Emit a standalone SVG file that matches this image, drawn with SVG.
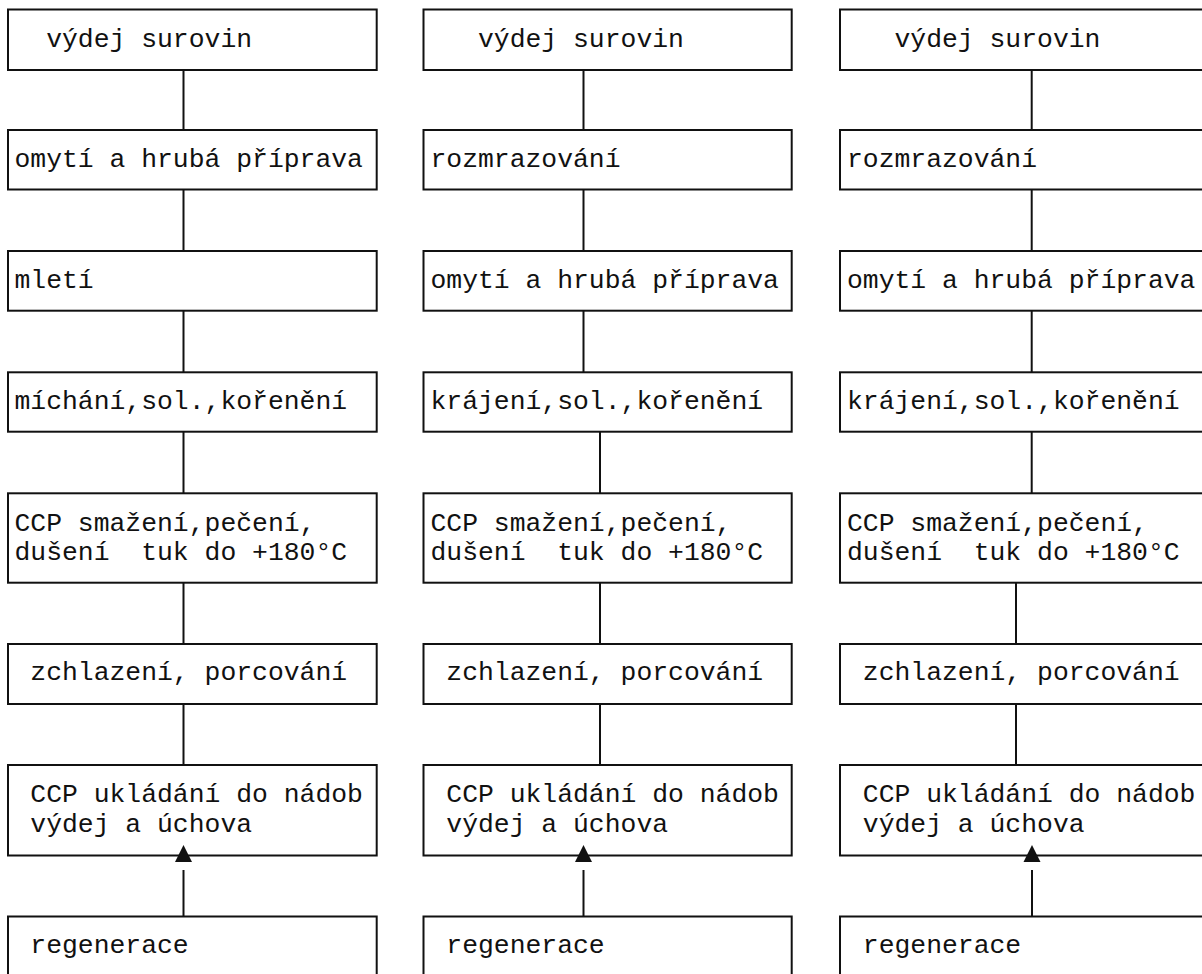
<svg xmlns="http://www.w3.org/2000/svg" width="1202" height="974" viewBox="0 0 1202 974">
<style>
.box{fill:#fff;stroke:#111;stroke-width:2}
.t{font-family:"Liberation Mono","Courier New",monospace;font-size:26.4px;fill:#111;white-space:pre}
.c{stroke:#111;stroke-width:2;fill:none}
.a{stroke:#111;stroke-width:2;fill:none;marker-end:url(#tri)}
</style>
<defs>
<marker id="tri" markerUnits="userSpaceOnUse" viewBox="0 0 17 17" markerWidth="17" markerHeight="17" refX="-8" refY="8.5" orient="auto" overflow="visible">
<path d="M0,0 L17,8.5 L0,17 z" fill="#111"/>
</marker>
</defs>
<rect width="1202" height="974" fill="#fff"/>
<g id="c1-r1"><rect class="box" x="8" y="9.5" width="368.7" height="60.5"/><text class="t" xml:space="preserve" x="14.5" y="46.7">  výdej surovin</text></g>
<g id="c1-r2"><rect class="box" x="8" y="130" width="368.7" height="59.5"/><text class="t" xml:space="preserve" x="14.5" y="166.7">omytí a hrubá příprava</text></g>
<g id="c1-r3"><rect class="box" x="8" y="251" width="368.7" height="59.7"/><text class="t" xml:space="preserve" x="14.5" y="288.3">mletí</text></g>
<g id="c1-r4"><rect class="box" x="8" y="372.3" width="368.7" height="59.4"/><text class="t" xml:space="preserve" x="14.5" y="409.3">míchání,sol.,kořenění</text></g>
<g id="c1-r5"><rect class="box" x="8" y="493.3" width="368.7" height="89.4"/><text class="t" xml:space="preserve" x="14.5" y="530.7">CCP smažení,pečení,</text><text class="t" xml:space="preserve" x="14.5" y="560">dušení  tuk do +180°C</text></g>
<g id="c1-r6"><rect class="box" x="8" y="644" width="368.7" height="60"/><text class="t" xml:space="preserve" x="14.5" y="680"> zchlazení, porcování</text></g>
<g id="c1-r7"><rect class="box" x="8" y="765" width="368.7" height="90.5"/><text class="t" xml:space="preserve" x="14.5" y="801.7"> CCP ukládání do nádob</text><text class="t" xml:space="preserve" x="14.5" y="831.7"> výdej a úchova</text></g>
<g id="c1-r8"><rect class="box" x="8" y="916.5" width="368.7" height="80"/><text class="t" xml:space="preserve" x="14.5" y="953.3"> regenerace</text></g>

<g id="c2-r1"><rect class="box" x="423.5" y="9.5" width="368.2" height="60.5"/><text class="t" xml:space="preserve" x="430.5" y="46.7">   výdej surovin</text></g>
<g id="c2-r2"><rect class="box" x="423.5" y="130" width="368.2" height="59.5"/><text class="t" xml:space="preserve" x="430.5" y="166.7">rozmrazování</text></g>
<g id="c2-r3"><rect class="box" x="423.5" y="251" width="368.2" height="59.7"/><text class="t" xml:space="preserve" x="430.5" y="288.3">omytí a hrubá příprava</text></g>
<g id="c2-r4"><rect class="box" x="423.5" y="372.3" width="368.2" height="59.4"/><text class="t" xml:space="preserve" x="430.5" y="409.3">krájení,sol.,kořenění</text></g>
<g id="c2-r5"><rect class="box" x="423.5" y="493.3" width="368.2" height="89.4"/><text class="t" xml:space="preserve" x="430.5" y="530.7">CCP smažení,pečení,</text><text class="t" xml:space="preserve" x="430.5" y="560">dušení  tuk do +180°C</text></g>
<g id="c2-r6"><rect class="box" x="423.5" y="644" width="368.2" height="60"/><text class="t" xml:space="preserve" x="430.5" y="680"> zchlazení, porcování</text></g>
<g id="c2-r7"><rect class="box" x="423.5" y="765" width="368.2" height="90.5"/><text class="t" xml:space="preserve" x="430.5" y="801.7"> CCP ukládání do nádob</text><text class="t" xml:space="preserve" x="430.5" y="831.7"> výdej a úchova</text></g>
<g id="c2-r8"><rect class="box" x="423.5" y="916.5" width="368.2" height="80"/><text class="t" xml:space="preserve" x="430.5" y="953.3"> regenerace</text></g>

<g id="c3-r1"><rect class="box" x="840" y="9.5" width="368.2" height="60.5"/><text class="t" xml:space="preserve" x="847" y="46.7">   výdej surovin</text></g>
<g id="c3-r2"><rect class="box" x="840" y="130" width="368.2" height="59.5"/><text class="t" xml:space="preserve" x="847" y="166.7">rozmrazování</text></g>
<g id="c3-r3"><rect class="box" x="840" y="251" width="368.2" height="59.7"/><text class="t" xml:space="preserve" x="847" y="288.3">omytí a hrubá příprava</text></g>
<g id="c3-r4"><rect class="box" x="840" y="372.3" width="368.2" height="59.4"/><text class="t" xml:space="preserve" x="847" y="409.3">krájení,sol.,kořenění</text></g>
<g id="c3-r5"><rect class="box" x="840" y="493.3" width="368.2" height="89.4"/><text class="t" xml:space="preserve" x="847" y="530.7">CCP smažení,pečení,</text><text class="t" xml:space="preserve" x="847" y="560">dušení  tuk do +180°C</text></g>
<g id="c3-r6"><rect class="box" x="840" y="644" width="368.2" height="60"/><text class="t" xml:space="preserve" x="847" y="680"> zchlazení, porcování</text></g>
<g id="c3-r7"><rect class="box" x="840" y="765" width="368.2" height="90.5"/><text class="t" xml:space="preserve" x="847" y="801.7"> CCP ukládání do nádob</text><text class="t" xml:space="preserve" x="847" y="831.7"> výdej a úchova</text></g>
<g id="c3-r8"><rect class="box" x="840" y="916.5" width="368.2" height="80"/><text class="t" xml:space="preserve" x="847" y="953.3"> regenerace</text></g>

<g id="connectors">
<line class="c" x1="183.5" y1="70" x2="183.5" y2="130"/>
<line class="c" x1="183.5" y1="189.5" x2="183.5" y2="251"/>
<line class="c" x1="183.5" y1="310.7" x2="183.5" y2="372.3"/>
<line class="c" x1="183.5" y1="431.7" x2="183.5" y2="493.3"/>
<line class="c" x1="183.5" y1="582.7" x2="183.5" y2="644"/>
<line class="c" x1="183.5" y1="704" x2="183.5" y2="765"/>
<line class="a" x1="183.5" y1="916.5" x2="183.5" y2="870"/>
<line class="c" x1="583.5" y1="70" x2="583.5" y2="130"/>
<line class="c" x1="583.5" y1="189.5" x2="583.5" y2="251"/>
<line class="c" x1="583.5" y1="310.7" x2="583.5" y2="372.3"/>
<line class="c" x1="600" y1="431.7" x2="600" y2="493.3"/>
<line class="c" x1="600" y1="582.7" x2="600" y2="644"/>
<line class="c" x1="600" y1="704" x2="600" y2="765"/>
<line class="a" x1="583.5" y1="916.5" x2="583.5" y2="870"/>
<line class="c" x1="1031.7" y1="70" x2="1031.7" y2="130"/>
<line class="c" x1="1031.7" y1="189.5" x2="1031.7" y2="251"/>
<line class="c" x1="1031.7" y1="310.7" x2="1031.7" y2="372.3"/>
<line class="c" x1="1031.7" y1="431.7" x2="1031.7" y2="493.3"/>
<line class="c" x1="1016" y1="582.7" x2="1016" y2="644"/>
<line class="c" x1="1016" y1="704" x2="1016" y2="765"/>
<line class="a" x1="1032" y1="916.5" x2="1032" y2="870"/>
</g>
</svg>
